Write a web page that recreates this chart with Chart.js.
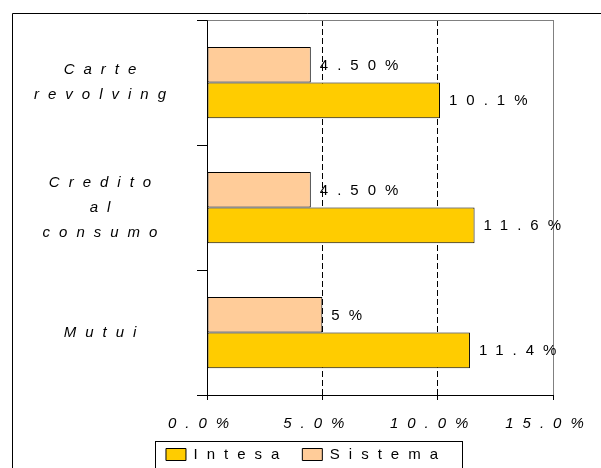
<!DOCTYPE html>
<html><head><meta charset="utf-8">
<script src="https://cdn.jsdelivr.net/npm/chart.js@4/dist/chart.umd.min.js"></script>
<style>html,body{margin:0;padding:0;overflow:hidden;background:#fff;width:601px;height:468px}canvas{display:block;letter-spacing:9px}</style>
</head><body>
<canvas id="c" width="601" height="472"></canvas>
<script>
const categories = [['Carte','revolving'],['Credito','al','consumo'],['Mutui']];
const seriesNames = ['Sistema','Intesa'];
const sistemaValues = [4.5, 4.5, 5];
const intesaValues = [10.1, 11.6, 11.4];
const sistemaLabels = ['4.50%', '4.50%', '5%'];
const intesaLabels = ['10.1%', '11.6%', '11.4%'];
const xTickValues = [0, 5, 10, 15];
const xTickLabels = ['0.0%', '5.0%', '10.0%', '15.0%'];

const SP = '9px';
const FONT = '"Liberation Sans", Arial, sans-serif';

const decor = {
  id: 'decor',
  beforeUpdate(c) { c.ctx.letterSpacing = SP; },
  beforeDraw(c) {
    const ctx = c.ctx;
    ctx.letterSpacing = SP;
    ctx.save();
    ctx.strokeStyle = '#000';
    ctx.lineWidth = 1;
    ctx.beginPath();
    ctx.moveTo(12.5, 480); ctx.lineTo(12.5, 13.5); ctx.lineTo(620, 13.5);
    ctx.stroke();
    ctx.restore();
  },
  afterDatasetsDraw(c) {
    const ctx = c.ctx;
    const labelSets = [sistemaLabels, intesaLabels];
    ctx.save();
    ctx.letterSpacing = SP;
    ctx.font = '15px ' + FONT;
    ctx.fillStyle = '#000';
    ctx.textAlign = 'left';
    ctx.textBaseline = 'middle';
    labelSets.forEach((labels, i) => {
      c.getDatasetMeta(i).data.forEach((el, j) => {
        ctx.fillText(labels[j], el.x + 9, el.y + 1);
      });
    });
    ctx.restore();
  },
  afterDraw(c) {
    const ctx = c.ctx;
    const a = c.chartArea;
    const tl = c.scales.y.options.grid.tickLength;
    const top = Math.round(a.top) + 0.5, bot = Math.round(a.bottom) + 0.5;
    const L = Math.round(a.left) + 0.5, R = Math.round(a.right) + 0.5;
    ctx.save();
    ctx.lineWidth = 1;
    ctx.strokeStyle = '#808080';
    ctx.beginPath(); ctx.moveTo(L, top); ctx.lineTo(R, top); ctx.stroke();
    ctx.strokeStyle = '#000';
    ctx.beginPath();
    ctx.moveTo(L - tl, top); ctx.lineTo(L, top);
    ctx.moveTo(L - tl, bot); ctx.lineTo(R, bot);
    ctx.stroke();
    ctx.restore();

    const hb = c.legend.legendHitBoxes;
    if (!hb || !hb.length) return;
    const left = Math.min(...hb.map(h => h.left)) - 11;
    const right = Math.max(...hb.map(h => h.left + h.width)) + 15;
    const cy = hb[0].top + hb[0].height / 2;
    ctx.save();
    ctx.strokeStyle = '#000';
    ctx.lineWidth = 1;
    ctx.strokeRect(Math.round(left) + 0.5, Math.round(cy - 14) + 0.5, Math.round(right - left), 27);
    ctx.restore();
  }
};

new Chart(document.getElementById('c'), {
  type: 'bar',
  data: {
    labels: categories,
    datasets: [
      { label: seriesNames[0], data: sistemaValues, backgroundColor: '#FFCC99', borderColor: '#000', borderWidth: 1, borderSkipped: false },
      { label: seriesNames[1], data: intesaValues, backgroundColor: '#FFCC00', borderColor: '#000', borderWidth: 1, borderSkipped: false }
    ]
  },
  options: {
    indexAxis: 'y',
    responsive: false,
    animation: false,
    devicePixelRatio: 1,
    categoryPercentage: 0.57,
    barPercentage: 1.0,
    layout: { padding: { left: 12, right: 0, top: 20, bottom: 0 } },
    plugins: {
      legend: {
        position: 'bottom',
        reverse: true,
        labels: {
          boxWidth: 20, boxHeight: 12, padding: 14, color: '#000',
          font: { family: FONT, size: 15 }
        }
      },
      tooltip: { enabled: false }
    },
    scales: {
      x: {
        type: 'linear', min: 0, max: 15,
        afterBuildTicks(s) { s.ticks = xTickValues.map(v => ({ value: v })); },
        afterFit(s) { s.paddingLeft = 0; s.paddingRight = 0; s.height = 38; },
        ticks: {
          color: '#000', padding: 15, labelOffset: -4, maxRotation: 0,
          font: { family: FONT, size: 15, style: 'italic' },
          callback: v => xTickLabels[xTickValues.indexOf(v)]
        },
        grid: {
          tickLength: 5,
          tickColor: '#000',
          color: c => (c.tick && c.tick.value === 15) ? '#808080' : (c.tick && c.tick.value === 0 ? 'rgba(0,0,0,0)' : '#000'),
          lineWidth: 1
        },
        border: { display: true, color: '#000', width: 1,
          dash: c => (c.tick && (c.tick.value === 5 || c.tick.value === 10)) ? [6, 3] : [] }
      },
      y: {
        type: 'category',
        afterFit(s) { s.width = 195; s.paddingTop = 0; s.paddingBottom = 0; },
        ticks: {
          color: '#000', padding: 22, crossAlign: 'center',
          font: { family: FONT, size: 15, style: 'italic', lineHeight: 25 / 15 }
        },
        grid: {
          offset: true, tickLength: 10, tickColor: '#000',
          color: c => c.index === 0 ? '#808080' : 'rgba(0,0,0,0)',
          lineWidth: 1
        },
        border: { display: true, color: '#000', width: 1 }
      },
      yR: {
        type: 'linear', position: 'right', axis: 'y', min: 0, max: 1,
        display: true,
        afterFit(s) { s.width = 48; s.paddingTop = 0; s.paddingBottom = 0; },
        ticks: { display: false },
        grid: { display: false, drawTicks: false },
        border: { display: false }
      }
    }
  },
  plugins: [decor]
});
</script>
</body></html>
